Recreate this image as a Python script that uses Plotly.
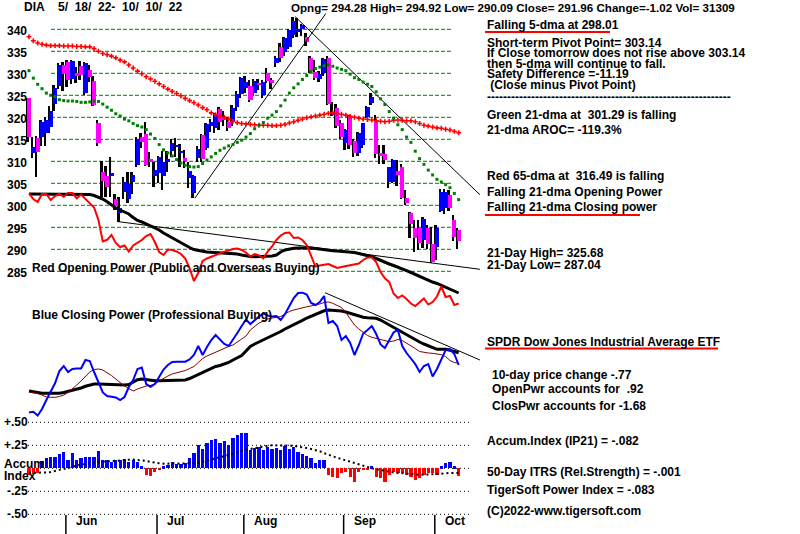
import plotly.graph_objects as go

# ---------------- DATA ----------------
# trading-day index 0 = 5/18/22 ... 99 = 10/10/22
opens = [324.3,311.9,315.2,315.6,316.4,317.7,323.0,327.1,331.8,332.5,
         328.6,330.1,331.7,325.6,330.7,328.2,318.6,307.6,306.7,306.7,
         301.4,298.2,303.1,301.4,305.4,309.2,315.6,316.2,310.5,306.7,
         307.3,306.7,309.9,312.3,313.3,311.9,310.8,306.1,302.7,310.7,
         316.0,313.0,318.1,317.5,321.8,320.0,319.0,318.9,322.4,325.2,
         326.6,327.2,325.5,327.9,325.1,330.0,328.5,332.3,335.9,334.9,
         336.0,338.7,339.6,340.0,338.3,333.4,330.2,328.7,330.0,333.5,
         320.5,322.2,318.6,314.1,320.0,314.6,311.8,313.7,320.0,323.3,
         319.4,311.8,311.7,305.4,305.4,307.9,308.6,301.6,298.2,294.8,
         294.8,292.1,294.8,291.2,290.6,298.8,299.3,302.4,296.7,294.28]
highs = [324.5,315.6,315.8,319.5,320.0,322.6,327.3,332.3,332.6,333.0,
         333.0,331.5,332.8,332.6,331.8,329.5,319.5,310.0,309.0,310.9,
         302.5,302.0,306.5,307.6,307.5,315.5,316.5,319.0,312.2,309.9,
         311.2,312.3,312.3,315.0,315.2,313.9,312.5,309.9,306.9,313.5,
         316.3,318.8,319.6,321.0,322.3,321.5,320.0,322.8,326.0,329.2,
         329.5,328.5,328.8,328.8,328.5,331.3,329.0,334.0,337.0,338.3,
         340.0,342.9,342.5,341.3,339.1,334.0,333.0,330.5,333.5,334.0,
         323.5,323.0,319.5,317.3,320.5,315.0,316.6,318.8,322.5,325.5,
         320.5,313.7,313.7,308.8,310.5,310.3,309.5,303.5,298.5,296.7,
         296.7,297.3,295.5,295.0,295.5,303.8,303.8,303.5,297.8,294.92]
lows = [314.5,310.7,306.4,313.5,313.5,316.5,321.5,326.5,326.0,327.0,
        327.5,327.8,328.5,325.0,328.0,322.5,313.5,302.0,302.0,302.0,
        298.9,296.3,301.5,300.5,302.5,308.8,313.0,309.0,308.8,304.2,
        305.0,303.5,307.6,311.0,311.0,308.8,308.5,304.0,301.6,309.9,
        309.9,312.5,316.6,316.5,317.1,318.0,316.8,318.0,321.5,324.5,
        325.5,323.5,324.8,326.2,324.5,327.7,326.5,331.5,332.5,334.0,
        335.5,338.0,338.3,338.5,336.3,330.0,328.5,328.0,329.5,322.8,
        320.3,317.5,315.0,312.5,312.8,311.0,311.3,313.0,319.8,322.8,
        310.7,309.5,309.3,304.0,305.0,304.4,301.4,300.1,292.6,289.5,
        289.9,290.3,290.0,287.0,287.5,298.5,298.0,298.8,292.0,290.09]
closes = [315.6,313.3,312.2,319.0,319.5,321.5,326.7,332.0,329.9,328.5,
          332.8,329.4,329.6,332.4,329.2,322.8,314.2,305.6,304.2,307.3,
          299.9,299.4,305.4,304.8,306.9,315.0,314.5,309.2,309.9,308.0,
          311.0,309.9,310.5,314.2,313.6,312.1,310.1,307.8,306.7,312.7,
          310.5,318.4,319.0,320.5,319.0,319.5,317.5,322.2,325.2,328.9,
          328.1,323.9,328.3,327.3,328.1,328.3,327.7,333.4,333.4,338.1,
          339.8,341.9,340.0,341.0,337.1,330.5,328.9,329.8,333.2,323.0,
          321.3,318.1,315.5,317.1,313.7,312.0,316.4,318.6,322.3,324.7,
          311.7,311.2,310.3,308.6,310.3,306.9,301.6,300.6,295.8,292.5,
          291.4,296.8,291.2,287.2,294.9,303.1,303.1,299.3,292.9,291.96]
dma65 = [338.3,337.4,336.9,336.6,336.4,336.3,336.3,336.3,336.2,336.2,
         336.2,336.1,336.1,336.0,336.0,335.6,335.0,334.5,334.2,333.9,
         333.5,333.0,332.6,331.9,331.2,330.5,329.9,329.2,328.7,328.2,
         327.6,327.0,326.4,325.9,325.4,324.9,324.3,323.8,323.3,322.8,
         322.2,321.7,321.0,320.6,320.3,320.0,319.6,319.1,318.8,318.6,
         318.5,318.4,318.3,318.2,318.2,318.2,318.1,318.1,318.2,318.4,
         318.7,319.0,319.3,319.6,319.9,320.1,320.3,320.5,320.7,320.9,
         321.0,320.9,320.7,320.5,320.2,320.0,319.8,319.6,319.5,319.4,
         319.2,319.1,319.0,319.1,319.3,319.4,319.3,319.2,319.2,319.0,
         318.6,318.2,318.0,317.8,317.6,317.5,317.3,317.1,316.8,316.49]
dma21 = [330.6,328.9,327.5,326.5,325.5,325.0,324.7,324.0,323.8,323.7,
         323.7,323.6,323.4,323.4,323.5,323.7,323.6,323.0,322.3,321.6,
         320.8,320.3,319.6,319.2,318.6,318.1,317.8,317.2,316.2,315.2,
         313.8,312.6,311.9,311.2,310.4,309.6,309.1,308.8,308.7,308.8,
         309.5,310.3,311.0,311.8,312.5,313.0,313.5,313.8,314.3,314.8,
         315.5,316.3,317.4,318.2,318.8,319.8,320.5,321.3,322.6,323.9,
         325.5,326.7,327.6,328.6,329.5,330.4,331.1,331.4,331.7,331.9,
         331.6,331.2,330.9,330.6,329.8,329.0,328.6,328.0,327.5,327.0,
         325.8,324.2,322.9,321.3,319.8,318.3,317.2,315.5,314.3,312.3,
         310.6,309.3,308.0,306.9,305.9,305.3,304.7,304.0,302.7,301.29]
open_power = [106.5,101,98,106,106,100,104,106,103.3,107,
              107,101.7,105.5,101,97,92.5,80,58.5,60.2,65,
              57,53,54.5,48.5,54.5,57.5,60,64,66,58,
              48,45,50.5,50,48.5,46,41.5,32,19,27,
              39,41.5,43.3,44.5,46.7,48.4,49.5,51,51.5,50,
              47.5,43.5,46,44.5,41.7,48.5,53.5,60,64.5,67,
              67.5,62,62.5,60,55,44,33.5,34.5,35.5,36,
              34,32,33,34,35,35.5,36.5,40,42.5,42.5,
              38,28,21.7,18,6.5,2,4.5,1,-3.5,-6,
              -2,1.5,-4.5,-2,3.5,13.5,3,4,-5,-3.5]
open_power_ma = [106,106,106,106,106,106,106,106,106,106,
                 106,106,106,106,105.5,104.5,103,101,98.3,95,
                 92,90,88,86,82.5,79.5,78,76,74.5,72.5,
                 70,67,64.5,62,59.5,57,55,52.5,50.5,49.3,
                 48.7,48,47.7,47.3,47.3,47,46.8,46.7,46,45,
                 44,43.5,43.3,43.3,43.3,43.5,44,45,48,50,
                 51,51.7,52,52.2,52.3,52,51.5,50.8,50,49.5,
                 49.2,49,48.7,48.5,48.2,47.5,46.5,45.5,44.5,43.3,
                 41.5,39.5,37.5,36,34.5,32.5,31,29.3,27.5,25.5,
                 23.5,21.5,20,18,16.5,14.5,12.5,10.7,9,7]
close_power = [37.5,38.3,34.5,41,50,58,66.7,79,84,78,
               81,81.5,81.5,90,89,78,67,57.5,54,53.3,
               52.5,50,53,63,70,81,82.5,66,63.3,66,
               73,80.5,85,88,88.3,88.3,88.3,90.5,95,104,
               95,103,110,115,111,106,104,110,117,124,
               130.5,126,130,133.5,136.5,134.5,133.5,134,130,136,
               144,152,157,157.3,155.5,147,145,148,154,127,
               129,124,110,114,107,95,105,116.5,120,124,
               116,105.5,102,110,117.5,120,104,97,92,86,
               78,84,86,73.5,81,91,100,101,96,85]
close_power_ma = [58,57.5,56.5,55,53,52.7,52.7,53.5,55,57.5,
                  61,65,69,73.5,78,80.5,81,80,77.5,74.5,
                  71,67.5,64,61.5,59,61,62.7,64,64.5,66,
                  69,71.7,74,76,77,78,79.5,81.5,83.5,87.5,
                  91.5,94,96,98,100,102,103.5,105,108,111,
                  114,120,123.5,127,129,131,132,132.7,133.5,136,
                  138.5,140,141.3,142.3,143.2,144,144.7,146,147.5,148,
                  146.7,145,142.5,137.5,131.5,125,121,118,114.5,112.7,
                  111.5,110,109.2,108.3,109,110.5,109.5,107,104.5,101.5,
                  98.5,97.5,97,96.7,96,95.3,93.5,89.5,87.5,86.7]
close_power_ma21 = [59,58,57,56.7,56.7,56.7,56.7,56.7,57.5,58.5,
                    59.7,61,62,63.7,65.2,66,66,65.8,65.7,65.5,
                    65.3,65.2,65,65.5,68,70.2,71,70.2,69.5,69.3,
                    69.3,69.3,69.3,69.3,69.3,69.5,70,71.5,73.5,75.5,
                    77.5,80,82,83.5,84.5,86,87.5,90,92,94.5,
                    99,103.5,106,108,110,112.5,114.5,116.5,118.5,121,
                    123,125,127.5,129.7,132,134,136,137.5,139.2,140,
                    139.8,139.5,139,138,136.7,135.3,134,132.7,132.2,132,
                    131.7,130,127.5,125.5,123,120.5,118,115.5,113,110.5,
                    108,106,104,102,100.7,100.7,100.7,99.7,98.5,97.3]
accum_index = [-0.07,-0.06,-0.05,0.08,0.11,0.12,0.12,0.16,0.18,0.09,
               0.17,0.09,0.11,0.12,0.12,0.12,0.19,0.09,0.09,0.07,
               0.09,0.09,0.10,0.07,0.09,0.07,0.02,-0.07,-0.08,-0.04,
               -0.02,0.02,0.04,0.07,0.05,0.05,0.06,0.11,0.17,0.25,
               0.21,0.28,0.31,0.32,0.28,0.30,0.25,0.33,0.36,0.38,
               0.38,0.20,0.22,0.23,0.20,0.23,0.21,0.22,0.20,0.24,
               0.21,0.23,0.18,0.16,0.13,0.11,0.06,0.09,0.09,-0.07,
               -0.09,-0.10,-0.05,-0.04,-0.09,-0.15,-0.04,-0.02,-0.01,0.02,
               -0.09,-0.11,-0.15,-0.07,-0.04,-0.05,-0.05,-0.07,-0.09,-0.13,
               -0.11,-0.07,-0.05,-0.05,-0.07,0.02,0.06,0.07,0.02,-0.082]
accum_ma = [-0.05,-0.05,-0.05,-0.05,-0.045,-0.04,-0.03,-0.02,-0.01,0.0,
            0.015,0.03,0.04,0.05,0.055,0.065,0.07,0.072,0.075,0.078,
            0.08,0.085,0.09,0.095,0.095,0.09,0.088,0.08,0.07,0.06,
            0.055,0.05,0.05,0.05,0.05,0.05,0.05,0.05,0.055,0.06,
            0.07,0.08,0.095,0.11,0.12,0.13,0.145,0.16,0.175,0.19,
            0.2,0.21,0.22,0.23,0.24,0.245,0.25,0.25,0.25,0.25,
            0.25,0.245,0.235,0.23,0.22,0.21,0.2,0.185,0.165,0.145,
            0.13,0.115,0.1,0.085,0.07,0.055,0.04,0.03,0.015,0.0,
            -0.01,-0.02,-0.03,-0.04,-0.045,-0.05,-0.055,-0.06,-0.065,-0.07,
            -0.07,-0.07,-0.068,-0.065,-0.06,-0.058,-0.055,-0.05,-0.05,-0.05]
price_ticks = [340, 335, 330, 325, 320, 315, 310, 305, 300, 295, 290, 285]
accum_levels = [0.5, 0.25, 0.0, -0.25, -0.5]
month_labels = ["Jun", "Jul", "Aug", "Sep", "Oct"]
month_start = [9, 30, 50, 73, 94]
# trend lines (day index, value)
support_line = ([20.5, 103.9], [296.3, 285.45])
rising_line = ([38.2, 68.4], [301.6, 343.6])
falling_line = ([61.3, 103.9], [342.9, 302.4])
cp_line = ([68.2, 103.9], [157.3, 90.0])

# ---------------- FIGURE ----------------
W, H = 800, 534
def X(px):
    return px / W
def Y(py):
    return 1 - py / H

n = len(closes)
idx = list(range(n))
FONT = "Liberation Sans, Arial, sans-serif"
NB = "\u00a0"

fig = go.Figure()

# opening power (red) and its average (black) in price panel
fig.add_trace(go.Scatter(x=idx, y=open_power_ma, yaxis="y2", mode="lines",
                         line=dict(color="black", width=3)))
fig.add_trace(go.Scatter(x=idx, y=open_power, yaxis="y2", mode="lines",
                         line=dict(color="#FF0000", width=2)))

# trend lines
for xs, ys in (support_line, rising_line, falling_line):
    fig.add_trace(go.Scatter(x=xs, y=ys, mode="lines", line=dict(color="black", width=1)))

# candles: wicks then bodies
fig.add_trace(go.Bar(x=idx, base=lows, y=[h - l for h, l in zip(highs, lows)],
                     width=0.45, offset=-0.5, marker=dict(color="black", line=dict(width=0))))
body_base = [min(o, c) for o, c in zip(opens, closes)]
body_h = [max(abs(c - o), 0.3) for o, c in zip(opens, closes)]
body_col = ["#0000FF" if c >= o else "#FF00FF" for o, c in zip(opens, closes)]
fig.add_trace(go.Bar(x=idx, base=body_base, y=body_h, width=0.95, offset=-0.45,
                     marker=dict(color=body_col, line=dict(width=0))))

# moving averages
fig.add_trace(go.Scatter(x=idx, y=dma65, mode="markers",
                         marker=dict(symbol="cross-thin", size=3.5, color="#FF0000",
                                     line=dict(width=1.6, color="#FF0000"))))
fig.add_trace(go.Scatter(x=idx, y=dma21, mode="markers",
                         marker=dict(symbol="square", size=3, color="#008000", line=dict(width=0))))

# closing power panel
fig.add_trace(go.Scatter(x=idx, y=close_power_ma21, yaxis="y3", mode="lines",
                         line=dict(color="black", width=3)))
fig.add_trace(go.Scatter(x=idx, y=close_power_ma, yaxis="y3", mode="lines",
                         line=dict(color="#800000", width=1)))
fig.add_trace(go.Scatter(x=idx, y=close_power, yaxis="y3", mode="lines",
                         line=dict(color="#0000FF", width=2)))
fig.add_trace(go.Scatter(x=cp_line[0], y=cp_line[1], yaxis="y3", mode="lines",
                         line=dict(color="black", width=1)))

# accumulation index
fig.add_trace(go.Bar(x=idx, y=accum_index, yaxis="y4", width=0.75,
                     marker=dict(color=["#0000FF" if v >= 0 else "#FF0000" for v in accum_index],
                                 line=dict(width=0))))
fig.add_trace(go.Scatter(x=idx, y=accum_ma, yaxis="y4", mode="lines",
                         line=dict(color="black", width=2, dash="2px,3px")))

shapes = []
for p in price_ticks:
    shapes.append(dict(type="line", xref="paper", yref="y", x0=X(51), x1=X(453), y0=p, y1=p,
                       line=dict(color="#008000", width=1, dash="4px,2px"), layer="below"))
for a in accum_levels:
    shapes.append(dict(type="line", xref="paper", yref="y4", x0=X(28), x1=X(471), y0=a, y1=a,
                       line=dict(color="black", width=1, dash="1px,3px"), layer="below"))
for m in month_start:
    shapes.append(dict(type="line", xref="x", yref="paper", x0=m - 0.5, x1=m - 0.5, y0=Y(515), y1=Y(534),
                       line=dict(color="black", width=1.5)))
for (x0, x1, yy) in ((485, 610, 32), (485, 640, 215), (485, 718, 348.5)):
    shapes.append(dict(type="line", xref="paper", yref="paper", x0=X(x0), x1=X(x1), y0=Y(yy), y1=Y(yy),
                       line=dict(color="#FF0000", width=2)))

ann = []
def txt(s, x, y, size=12):
    ann.append(dict(text=s.replace("  ", NB + NB), x=X(x), y=Y(y), xref="paper", yref="paper",
                    xanchor="left", yanchor="middle", showarrow=False,
                    font=dict(family=FONT, size=size, color="black", weight="bold")))

txt("DIA", 22, 7)
txt("5/" + NB + NB + "18/" + NB + NB + "22-" + NB + NB + "10/" + NB + NB + "10/" + NB + NB + "22", 56, 7)
txt("Opng= 294.28 High= 294.92 Low= 290.09 Close= 291.96 Change=-1.02 Vol= 31309", 289, 7, 11.6)
right_lines = [
    ("Falling 5-dma at 298.01", 485, 25),
    ("Short-term Pivot Point= 303.14", 485, 42.7),
    ("If Close tomorrow does not rise above 303.14", 485, 53.3),
    ("then 5-dma will continue to fall.", 485, 64),
    ("Safety Difference =-11.19", 485, 74.3),
    (NB + "(Close minus Pivot Point)", 485, 85),
    ("-" * 61, 485, 96.7),
    ("Green 21-dma at  301.29 is falling", 485, 115),
    ("21-dma AROC= -119.3%", 485, 130),
    ("Red 65-dma at  316.49 is falling", 485, 176),
    ("Falling 21-dma Opening Power", 485, 191.7),
    ("Falling 21-dma Closing power", 485, 206.7),
    ("21-Day High= 325.68", 485, 252.7),
    ("21-Day Low= 287.04", 485, 265),
    ("SPDR Dow Jones Industrial Average ETF", 485, 341.7),
    ("10-day price change -.77", 490, 375),
    ("OpenPwr accounts for  .92", 490, 389.3),
    ("ClosPwr accounts for -1.68", 490, 405.7),
    ("Accum.Index (IP21) = -.082", 485, 441),
    ("50-Day ITRS (Rel.Strength) = -.001", 485, 471.7),
    ("TigerSoft Power Index = -.083", 485, 490),
    ("(C)2022-www.tigersoft.com", 485, 511),
]
for s, x, y in right_lines:
    txt(s, x, y)
txt("Red Opening Power (Public and Overseas Buying)", 30, 268)
txt("Blue Closing Power (Professional Buying)", 30, 314.5)
for s, x, y in (("+.50", 2, 422), ("+.25", 2, 445), ("Accum", 2, 463.5), ("Index", 2, 475.5),
                ("-.25", 5, 491), ("-.50", 5, 514)):
    txt(s, x, y)
for p in price_ticks:
    ann.append(dict(text=str(p), x=X(5), y=p, xref="paper", yref="y", xanchor="left", yanchor="middle",
                    yshift=-1.5, showarrow=False,
                    font=dict(family=FONT, size=12, color="black", weight="bold")))
for lab, m in zip(month_labels, month_start):
    ann.append(dict(text=lab, x=m - 0.5, y=Y(520.5), xref="x", yref="paper", xanchor="left",
                    yanchor="middle", xshift=8, showarrow=False,
                    font=dict(family=FONT, size=12, color="black", weight="bold")))

# pixel-consistent axis ranges
x_px0, x_step = 29.0, 4.34
p_top, p_scale = 29.3, 4.4          # 340 at y=29.3, 4.4 px / point
fig.update_layout(
    width=W, height=H, autosize=False,
    margin=dict(l=0, r=0, t=0, b=0, pad=0),
    paper_bgcolor="white", plot_bgcolor="white",
    showlegend=False, barmode="overlay", bargap=0,
    xaxis=dict(range=[-x_px0 / x_step, (W - x_px0) / x_step], visible=False, fixedrange=True),
    yaxis=dict(range=[340 - (H - p_top) / p_scale, 340 + p_top / p_scale], visible=False, fixedrange=True),
    yaxis2=dict(range=[300 - H, 300], overlaying="y", visible=False, fixedrange=True),
    yaxis3=dict(range=[450 - H, 450], overlaying="y", visible=False, fixedrange=True),
    yaxis4=dict(range=[(468.3 - H) / 92, 468.3 / 92], overlaying="y", visible=False, fixedrange=True),
    shapes=shapes, annotations=ann,
)
fig.write_html("out.html", config={"displayModeBar": False})
